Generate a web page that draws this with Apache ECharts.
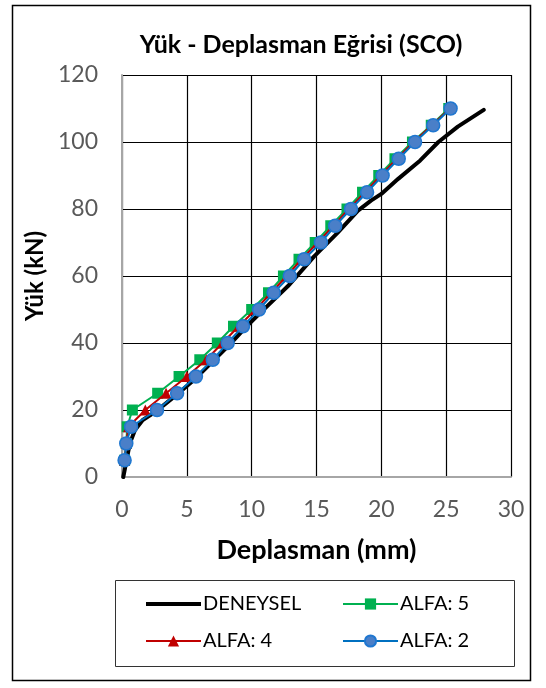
<!DOCTYPE html>
<html>
<head>
<meta charset="utf-8">
<script src="https://cdn.jsdelivr.net/npm/echarts@6/dist/echarts.min.js"></script>
<style>html,body{margin:0;padding:0;background:#fff}#c{width:546px;height:688px}</style>
</head>
<body>
<div id="c"></div>
<script>
const xTicks = [0, 5, 10, 15, 20, 25, 30];
const yTicks = [0, 20, 40, 60, 80, 100, 120];

const deneyselX = [0.1, 0.35, 0.6, 1.0, 1.6, 2.6, 4.2, 5.7, 7.0, 8.3, 9.5, 10.8, 12.0, 12.8, 13.6, 14.8, 16.6, 18.2, 19.2, 20.0, 21.3, 23.0, 24.4, 25.9, 27.9];
const deneyselY = [0, 5, 10, 14, 17, 19.5, 24.5, 29.5, 34.5, 39.5, 44.5, 49.5, 54, 57, 60.5, 65.8, 72.8, 79.5, 82.5, 84.5, 89, 94.5, 100, 104.6, 109.6];

const loads = [5, 10, 15, 20, 25, 30, 35, 40, 45, 50, 55, 60, 65, 70, 75, 80, 85, 90, 95, 100, 105, 110];
const alfa5X = [0.2, 0.33, 0.4, 0.8, 2.75, 4.4, 6.0, 7.35, 8.6, 10.0, 11.3, 12.45, 13.65, 14.9, 16.1, 17.35, 18.55, 19.8, 21.05, 22.4, 23.85, 25.2];
const alfa4X = [0.2, 0.33, 0.5, 1.8, 3.4, 5.0, 6.5, 7.75, 9.0, 10.3, 11.5, 12.7, 13.85, 15.1, 16.3, 17.5, 18.75, 19.95, 21.2, 22.5, 23.9, 25.3];
const alfa2X = [0.2, 0.33, 0.7, 2.7, 4.25, 5.7, 7.0, 8.15, 9.33, 10.57, 11.7, 12.94, 14.05, 15.34, 16.44, 17.66, 18.9, 20.1, 21.34, 22.6, 24.0, 25.34];

const seriesNames = ['DENEYSEL', 'ALFA: 5', 'ALFA: 4', 'ALFA: 2'];

function pairs(xs, ys) { return xs.map((x, i) => [x, ys[i]]); }

const font = 'Lato, "Open Sans", sans-serif';
const legendText = {fontFamily: font, fontSize: 20, color: '#000', padding: [0, 0, 0, -3]};
const chart = echarts.init(document.getElementById('c'), null, {renderer: 'canvas'});
chart.setOption({
  animation: false,
  backgroundColor: '#fff',
  title: {
    text: 'Yük - Deplasman Eğrisi (SCO)',
    left: 296, top: 27, textAlign: 'center',
    textStyle: {fontFamily: font, fontSize: 25, fontWeight: 'bold', color: '#000'}
  },
  grid: {left: 122, top: 75, right: 35, bottom: 211, containLabel: false},
  xAxis: {
    type: 'value', min: xTicks[0], max: xTicks[xTicks.length - 1], interval: 5,
    name: 'Deplasman (mm)', nameLocation: 'middle', nameGap: 60,
    nameTextStyle: {fontFamily: font, fontSize: 27, fontWeight: 'bold', color: '#000'},
    axisLine: {lineStyle: {color: '#A6A6A6', width: 2}},
    axisTick: {show: false},
    axisLabel: {fontFamily: font, fontSize: 23, color: '#595959', margin: 21},
    splitLine: {lineStyle: {color: '#000', width: 1.2}}
  },
  yAxis: {
    type: 'value', min: yTicks[0], max: yTicks[yTicks.length - 1], interval: 20,
    name: 'Yük (kN)', nameLocation: 'middle', nameGap: 73, nameRotate: 90,
    nameTextStyle: {fontFamily: font, fontSize: 24, fontWeight: 'bold', color: '#000'},
    axisLine: {show: true, lineStyle: {color: '#A6A6A6', width: 2}},
    axisTick: {show: false},
    axisLabel: {fontFamily: font, fontSize: 23, color: '#595959', margin: 24},
    splitLine: {lineStyle: {color: '#000', width: 1.2}}
  },
  legend: [
    {
      data: [{name: seriesNames[0], icon: 'path://M0,0H55V4H0Z'}, seriesNames[2]],
      orient: 'vertical', left: 140, top: 589, symbolKeepAspect: true,
      itemWidth: 55, itemHeight: 14, itemGap: 17, textStyle: legendText
    },
    {
      data: [seriesNames[1], seriesNames[3]], orient: 'vertical', left: 337, top: 589,
      itemWidth: 55, itemHeight: 14, itemGap: 17, textStyle: legendText
    }
  ],
  graphic: [
    {type: 'rect', shape: {x: 12.5, y: 5.5, width: 518, height: 675}, style: {fill: 'none', stroke: '#000', lineWidth: 1.5}, z: -1},
    {type: 'rect', shape: {x: 115.5, y: 580.5, width: 399, height: 86}, style: {fill: 'none', stroke: '#333', lineWidth: 1}, z: 10}
  ],
  series: [
    {
      name: seriesNames[0], type: 'line', data: pairs(deneyselX, deneyselY),
      showSymbol: false, symbol: 'none', smooth: false,
      lineStyle: {color: '#000', width: 4, cap: 'round', join: 'round'},
      itemStyle: {color: '#000'}, z: 2
    },
    {
      name: seriesNames[1], type: 'line', data: pairs(alfa5X, loads),
      symbol: 'rect', symbolSize: 11,
      lineStyle: {color: '#00B050', width: 2},
      itemStyle: {color: '#00B050'}, z: 3
    },
    {
      name: seriesNames[2], type: 'line', data: pairs(alfa4X, loads),
      symbol: 'triangle', symbolSize: 11,
      lineStyle: {color: '#C00000', width: 2},
      itemStyle: {color: '#C00000'}, z: 4
    },
    {
      name: seriesNames[3], type: 'line', data: pairs(alfa2X, loads),
      symbol: 'circle', symbolSize: 13,
      lineStyle: {color: '#0070C0', width: 2},
      itemStyle: {color: '#4A7FC8', borderColor: '#1F77D0', borderWidth: 1.5}, z: 5
    }
  ]
});
</script>
</body>
</html>
